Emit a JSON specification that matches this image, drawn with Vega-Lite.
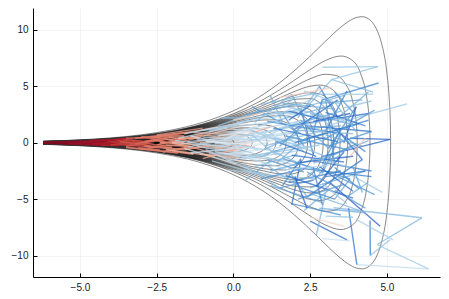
{
"$schema": "https://vega.github.io/schema/vega-lite/v6.json",
"width": 407, "height": 269,
"autosize": {"type": "none"},
"padding": {"left": 33, "top": 8, "right": 9, "bottom": 22},
"background": "white",
"config": {
  "view": {"stroke": null},
  "axis": {"title": null, "domainColor": "#000", "domainWidth": 1, "tickColor": "#000", "tickSize": -4, "labelPadding": 9, "gridColor": "#000", "gridOpacity": 0.08, "gridWidth": 0.6, "labelFont": "Liberation Sans", "labelFontSize": 10, "labelColor": "#222"}
},
"datasets": {
"band": [
{"x":-6.2,"a":0.132,"na":-0.132},{"x":-5,"a":0.245,"na":-0.245},{"x":-4,"a":0.403,"na":-0.403},{"x":-3,"a":0.656,"na":-0.656},{"x":-2,"a":1.054,"na":-1.054},{"x":-1.5,"a":1.328,"na":-1.328},{"x":-1,"a":1.665,"na":-1.665},{"x":-0.5,"a":2.078,"na":-2.078},{"x":0,"a":2.578,"na":-2.578},{"x":0.5,"a":3.177,"na":-3.177}
],
"contours": [
{"k":1,"x":-6.2,"u":0.142,"l":-0.142},{"k":1,"x":-5,"u":0.263,"l":-0.263},{"k":1,"x":-4,"u":0.433,"l":-0.433},{"k":1,"x":-3,"u":0.707,"l":-0.707},{"k":1,"x":-2,"u":1.139,"l":-1.139},{"k":1,"x":-1.5,"u":1.439,"l":-1.439},{"k":1,"x":-1,"u":1.812,"l":-1.812},{"k":1,"x":-0.5,"u":2.272,"l":-2.272},{"k":1,"x":0,"u":2.835,"l":-2.835},{"k":1,"x":0.5,"u":3.518,"l":-3.518},{"k":1,"x":1,"u":4.338,"l":-4.338},{"k":1,"x":1.5,"u":5.307,"l":-5.307},{"k":1,"x":2,"u":6.427,"l":-6.427},{"k":1,"x":2.5,"u":7.679,"l":-7.679},{"k":1,"x":3,"u":9.003,"l":-9.003},{"k":1,"x":3.5,"u":10.252,"l":-10.252},{"k":1,"x":3.75,"u":10.759,"l":-10.759},{"k":1,"x":4,"u":11.101,"l":-11.101},{"k":1,"x":4.2,"u":11.181,"l":-11.181},{"k":1,"x":4.5,"u":10.754,"l":-10.754},{"k":1,"x":4.7,"u":9.839,"l":-9.839},{"k":1,"x":4.821,"u":8.852,"l":-8.852},{"k":1,"x":5.001,"u":6.155,"l":-6.155},{"k":1,"x":5.071,"u":4.122,"l":-4.122},{"k":1,"x":5.106,"u":2.3,"l":-2.3},{"k":1,"x":5.117,"u":1.194,"l":-1.194},{"k":1,"x":5.121,"u":0,"l":0},
{"k":2,"x":-6.2,"u":0.132,"l":-0.132},{"k":2,"x":-5,"u":0.245,"l":-0.245},{"k":2,"x":-4,"u":0.403,"l":-0.403},{"k":2,"x":-3,"u":0.656,"l":-0.656},{"k":2,"x":-2,"u":1.054,"l":-1.054},{"k":2,"x":-1.5,"u":1.328,"l":-1.328},{"k":2,"x":-1,"u":1.665,"l":-1.665},{"k":2,"x":-0.5,"u":2.078,"l":-2.078},{"k":2,"x":0,"u":2.578,"l":-2.578},{"k":2,"x":0.5,"u":3.177,"l":-3.177},{"k":2,"x":1,"u":3.88,"l":-3.88},{"k":2,"x":1.5,"u":4.685,"l":-4.685},{"k":2,"x":2,"u":5.573,"l":-5.573},{"k":2,"x":2.5,"u":6.487,"l":-6.487},{"k":2,"x":3,"u":7.293,"l":-7.293},{"k":2,"x":3.5,"u":7.693,"l":-7.693},{"k":2,"x":3.849,"u":7.358,"l":-7.358},{"k":2,"x":4.149,"u":6.097,"l":-6.097},{"k":2,"x":4.329,"u":4.241,"l":-4.241},{"k":2,"x":4.399,"u":2.84,"l":-2.84},{"k":2,"x":4.434,"u":1.585,"l":-1.585},{"k":2,"x":4.445,"u":0.823,"l":-0.823},{"k":2,"x":4.449,"u":0,"l":0},
{"k":3,"x":-6.2,"u":0.126,"l":-0.126},{"k":3,"x":-5,"u":0.233,"l":-0.233},{"k":3,"x":-4,"u":0.384,"l":-0.384},{"k":3,"x":-3,"u":0.625,"l":-0.625},{"k":3,"x":-2,"u":1.0,"l":-1.0},{"k":3,"x":-1.5,"u":1.258,"l":-1.258},{"k":3,"x":-1,"u":1.573,"l":-1.573},{"k":3,"x":-0.5,"u":1.956,"l":-1.956},{"k":3,"x":0,"u":2.416,"l":-2.416},{"k":3,"x":0.5,"u":2.959,"l":-2.959},{"k":3,"x":1,"u":3.584,"l":-3.584},{"k":3,"x":1.5,"u":4.28,"l":-4.28},{"k":3,"x":2,"u":5.007,"l":-5.007},{"k":3,"x":2.5,"u":5.675,"l":-5.675},{"k":3,"x":3,"u":6.075,"l":-6.075},{"k":3,"x":3.332,"u":5.969,"l":-5.969},{"k":3,"x":3.632,"u":5.29,"l":-5.29},{"k":3,"x":3.882,"u":3.699,"l":-3.699},{"k":3,"x":3.982,"u":2.251,"l":-2.251},{"k":3,"x":4.017,"u":1.256,"l":-1.256},{"k":3,"x":4.028,"u":0.653,"l":-0.653},{"k":3,"x":4.032,"u":0,"l":0},
{"k":4,"x":-6.2,"u":0.121,"l":-0.121},{"k":4,"x":-5,"u":0.225,"l":-0.225},{"k":4,"x":-4,"u":0.37,"l":-0.37},{"k":4,"x":-3,"u":0.601,"l":-0.601},{"k":4,"x":-2,"u":0.961,"l":-0.961},{"k":4,"x":-1.5,"u":1.206,"l":-1.206},{"k":4,"x":-1,"u":1.504,"l":-1.504},{"k":4,"x":-0.5,"u":1.865,"l":-1.865},{"k":4,"x":0,"u":2.294,"l":-2.294},{"k":4,"x":0.5,"u":2.794,"l":-2.794},{"k":4,"x":1,"u":3.359,"l":-3.359},{"k":4,"x":1.5,"u":3.968,"l":-3.968},{"k":4,"x":2,"u":4.563,"l":-4.563},{"k":4,"x":2.5,"u":5.019,"l":-5.019},{"k":4,"x":2.823,"u":5.115,"l":-5.115},{"k":4,"x":3.223,"u":4.716,"l":-4.716},{"k":4,"x":3.523,"u":3.498,"l":-3.498},{"k":4,"x":3.653,"u":2.217,"l":-2.217},{"k":4,"x":3.703,"u":1.217,"l":-1.217},{"k":4,"x":3.718,"u":0.613,"l":-0.613},{"k":4,"x":3.723,"u":0,"l":0},
{"k":5,"x":-6.2,"u":0.117,"l":-0.117},{"k":5,"x":-5,"u":0.218,"l":-0.218},{"k":5,"x":-4,"u":0.359,"l":-0.359},{"k":5,"x":-3,"u":0.583,"l":-0.583},{"k":5,"x":-2,"u":0.929,"l":-0.929},{"k":5,"x":-1.5,"u":1.163,"l":-1.163},{"k":5,"x":-1,"u":1.449,"l":-1.449},{"k":5,"x":-0.5,"u":1.791,"l":-1.791},{"k":5,"x":0,"u":2.195,"l":-2.195},{"k":5,"x":0.5,"u":2.659,"l":-2.659},{"k":5,"x":1,"u":3.173,"l":-3.173},{"k":5,"x":1.5,"u":3.707,"l":-3.707},{"k":5,"x":2,"u":4.186,"l":-4.186},{"k":5,"x":2.5,"u":4.444,"l":-4.444},{"k":5,"x":2.875,"u":4.259,"l":-4.259},{"k":5,"x":3.175,"u":3.533,"l":-3.533},{"k":5,"x":3.355,"u":2.459,"l":-2.459},{"k":5,"x":3.435,"u":1.481,"l":-1.481},{"k":5,"x":3.465,"u":0.753,"l":-0.753},{"k":5,"x":3.475,"u":0,"l":0},
{"k":6,"x":-6.2,"u":0.114,"l":-0.114},{"k":6,"x":-5,"u":0.212,"l":-0.212},{"k":6,"x":-4,"u":0.35,"l":-0.35},{"k":6,"x":-3,"u":0.567,"l":-0.567},{"k":6,"x":-2,"u":0.902,"l":-0.902},{"k":6,"x":-1.5,"u":1.128,"l":-1.128},{"k":6,"x":-1,"u":1.402,"l":-1.402},{"k":6,"x":-0.5,"u":1.728,"l":-1.728},{"k":6,"x":0,"u":2.11,"l":-2.11},{"k":6,"x":0.5,"u":2.543,"l":-2.543},{"k":6,"x":1,"u":3.013,"l":-3.013},{"k":6,"x":1.5,"u":3.479,"l":-3.479},{"k":6,"x":2,"u":3.851,"l":-3.851},{"k":6,"x":2.5,"u":3.913,"l":-3.913},{"k":6,"x":2.766,"u":3.643,"l":-3.643},{"k":6,"x":3.016,"u":2.943,"l":-2.943},{"k":6,"x":3.166,"u":2.016,"l":-2.016},{"k":6,"x":3.236,"u":1.146,"l":-1.146},{"k":6,"x":3.258,"u":0.599,"l":-0.599},{"k":6,"x":3.266,"u":0,"l":0},
{"k":7,"x":-6.2,"u":0.111,"l":-0.111},{"k":7,"x":-5,"u":0.207,"l":-0.207},{"k":7,"x":-4,"u":0.341,"l":-0.341},{"k":7,"x":-3,"u":0.553,"l":-0.553},{"k":7,"x":-2,"u":0.878,"l":-0.878},{"k":7,"x":-1.5,"u":1.097,"l":-1.097},{"k":7,"x":-1,"u":1.361,"l":-1.361},{"k":7,"x":-0.5,"u":1.673,"l":-1.673},{"k":7,"x":0,"u":2.036,"l":-2.036},{"k":7,"x":0.5,"u":2.441,"l":-2.441},{"k":7,"x":1,"u":2.871,"l":-2.871},{"k":7,"x":1.5,"u":3.275,"l":-3.275},{"k":7,"x":2,"u":3.543,"l":-3.543},{"k":7,"x":2.486,"u":3.416,"l":-3.416},{"k":7,"x":2.786,"u":2.835,"l":-2.835},{"k":7,"x":2.966,"u":1.974,"l":-1.974},{"k":7,"x":3.046,"u":1.189,"l":-1.189},{"k":7,"x":3.076,"u":0.604,"l":-0.604},{"k":7,"x":3.086,"u":0,"l":0},
{"k":8,"x":-6.2,"u":0.109,"l":-0.109},{"k":8,"x":-5,"u":0.203,"l":-0.203},{"k":8,"x":-4,"u":0.334,"l":-0.334},{"k":8,"x":-3,"u":0.541,"l":-0.541},{"k":8,"x":-2,"u":0.857,"l":-0.857},{"k":8,"x":-1.5,"u":1.07,"l":-1.07},{"k":8,"x":-1,"u":1.324,"l":-1.324},{"k":8,"x":-0.5,"u":1.624,"l":-1.624},{"k":8,"x":0,"u":1.969,"l":-1.969},{"k":8,"x":0.5,"u":2.349,"l":-2.349},{"k":8,"x":1,"u":2.741,"l":-2.741},{"k":8,"x":1.5,"u":3.087,"l":-3.087},{"k":8,"x":2,"u":3.252,"l":-3.252},{"k":8,"x":2.325,"u":3.117,"l":-3.117},{"k":8,"x":2.625,"u":2.588,"l":-2.588},{"k":8,"x":2.805,"u":1.802,"l":-1.802},{"k":8,"x":2.885,"u":1.086,"l":-1.086},{"k":8,"x":2.915,"u":0.552,"l":-0.552},{"k":8,"x":2.925,"u":0,"l":0},
{"k":10,"x":-6.2,"u":0.104,"l":-0.104},{"k":10,"x":-5,"u":0.195,"l":-0.195},{"k":10,"x":-4,"u":0.322,"l":-0.322},{"k":10,"x":-3,"u":0.52,"l":-0.52},{"k":10,"x":-2,"u":0.821,"l":-0.821},{"k":10,"x":-1.5,"u":1.022,"l":-1.022},{"k":10,"x":-1,"u":1.26,"l":-1.26},{"k":10,"x":-0.5,"u":1.538,"l":-1.538},{"k":10,"x":0,"u":1.852,"l":-1.852},{"k":10,"x":0.5,"u":2.187,"l":-2.187},{"k":10,"x":1,"u":2.51,"l":-2.51},{"k":10,"x":1.5,"u":2.744,"l":-2.744},{"k":10,"x":1.85,"u":2.762,"l":-2.762},{"k":10,"x":2.15,"u":2.565,"l":-2.565},{"k":10,"x":2.4,"u":2.074,"l":-2.074},{"k":10,"x":2.55,"u":1.421,"l":-1.421},{"k":10,"x":2.62,"u":0.808,"l":-0.808},{"k":10,"x":2.642,"u":0.422,"l":-0.422},{"k":10,"x":2.65,"u":0,"l":0},
{"k":12,"x":-6.2,"u":0.101,"l":-0.101},{"k":12,"x":-5,"u":0.189,"l":-0.189},{"k":12,"x":-4,"u":0.311,"l":-0.311},{"k":12,"x":-3,"u":0.502,"l":-0.502},{"k":12,"x":-2,"u":0.791,"l":-0.791},{"k":12,"x":-1.5,"u":0.981,"l":-0.981},{"k":12,"x":-1,"u":1.206,"l":-1.206},{"k":12,"x":-0.5,"u":1.465,"l":-1.465},{"k":12,"x":0,"u":1.751,"l":-1.751},{"k":12,"x":0.5,"u":2.045,"l":-2.045},{"k":12,"x":1,"u":2.305,"l":-2.305},{"k":12,"x":1.616,"u":2.414,"l":-2.414},{"k":12,"x":1.916,"u":2.243,"l":-2.243},{"k":12,"x":2.166,"u":1.814,"l":-1.814},{"k":12,"x":2.316,"u":1.243,"l":-1.243},{"k":12,"x":2.386,"u":0.707,"l":-0.707},{"k":12,"x":2.408,"u":0.37,"l":-0.37},{"k":12,"x":2.416,"u":0,"l":0},
{"k":15,"x":-6.2,"u":0.096,"l":-0.096},{"k":15,"x":-5,"u":0.181,"l":-0.181},{"k":15,"x":-4,"u":0.298,"l":-0.298},{"k":15,"x":-3,"u":0.48,"l":-0.48},{"k":15,"x":-2,"u":0.752,"l":-0.752},{"k":15,"x":-1.5,"u":0.929,"l":-0.929},{"k":15,"x":-1,"u":1.136,"l":-1.136},{"k":15,"x":-0.5,"u":1.369,"l":-1.369},{"k":15,"x":0,"u":1.618,"l":-1.618},{"k":15,"x":0.5,"u":1.857,"l":-1.857},{"k":15,"x":1,"u":2.024,"l":-2.024},{"k":15,"x":1.32,"u":2.034,"l":-2.034},{"k":15,"x":1.62,"u":1.891,"l":-1.891},{"k":15,"x":1.87,"u":1.53,"l":-1.53},{"k":15,"x":2.02,"u":1.049,"l":-1.049},{"k":15,"x":2.09,"u":0.596,"l":-0.596},{"k":15,"x":2.112,"u":0.312,"l":-0.312},{"k":15,"x":2.12,"u":0,"l":0},
{"k":20,"x":-6.2,"u":0.09,"l":-0.09},{"k":20,"x":-5,"u":0.17,"l":-0.17},{"k":20,"x":-4,"u":0.28,"l":-0.28},{"k":20,"x":-3,"u":0.449,"l":-0.449},{"k":20,"x":-2,"u":0.698,"l":-0.698},{"k":20,"x":-1.5,"u":0.857,"l":-0.857},{"k":20,"x":-1,"u":1.039,"l":-1.039},{"k":20,"x":-0.5,"u":1.235,"l":-1.235},{"k":20,"x":0,"u":1.43,"l":-1.43},{"k":20,"x":0.5,"u":1.581,"l":-1.581},{"k":20,"x":0.816,"u":1.615,"l":-1.615},{"k":20,"x":1.216,"u":1.495,"l":-1.495},{"k":20,"x":1.466,"u":1.211,"l":-1.211},{"k":20,"x":1.616,"u":0.83,"l":-0.83},{"k":20,"x":1.686,"u":0.472,"l":-0.472},{"k":20,"x":1.708,"u":0.247,"l":-0.247},{"k":20,"x":1.716,"u":0,"l":0},
{"k":25,"x":-6.2,"u":0.085,"l":-0.085},{"k":25,"x":-5,"u":0.16,"l":-0.16},{"k":25,"x":-4,"u":0.265,"l":-0.265},{"k":25,"x":-3,"u":0.423,"l":-0.423},{"k":25,"x":-2,"u":0.653,"l":-0.653},{"k":25,"x":-1.5,"u":0.797,"l":-0.797},{"k":25,"x":-1,"u":0.956,"l":-0.956},{"k":25,"x":-0.5,"u":1.12,"l":-1.12},{"k":25,"x":0,"u":1.264,"l":-1.264},{"k":25,"x":0.484,"u":1.328,"l":-1.328},{"k":25,"x":0.884,"u":1.231,"l":-1.231},{"k":25,"x":1.134,"u":0.997,"l":-0.997},{"k":25,"x":1.284,"u":0.684,"l":-0.684},{"k":25,"x":1.354,"u":0.389,"l":-0.389},{"k":25,"x":1.376,"u":0.204,"l":-0.204},{"k":25,"x":1.384,"u":0,"l":0},
{"k":30,"x":-6.2,"u":0.08,"l":-0.08},{"k":30,"x":-5,"u":0.153,"l":-0.153},{"k":30,"x":-4,"u":0.252,"l":-0.252},{"k":30,"x":-3,"u":0.401,"l":-0.401},{"k":30,"x":-2,"u":0.614,"l":-0.614},{"k":30,"x":-1.5,"u":0.744,"l":-0.744},{"k":30,"x":-1,"u":0.883,"l":-0.883},{"k":30,"x":-0.5,"u":1.017,"l":-1.017},{"k":30,"x":0.098,"u":1.118,"l":-1.118},{"k":30,"x":0.498,"u":1.078,"l":-1.078},{"k":30,"x":0.798,"u":0.898,"l":-0.898},{"k":30,"x":0.978,"u":0.627,"l":-0.627},{"k":30,"x":1.058,"u":0.378,"l":-0.378},{"k":30,"x":1.088,"u":0.192,"l":-0.192},{"k":30,"x":1.098,"u":0,"l":0},
{"k":40,"x":-6.2,"u":0.072,"l":-0.072},{"k":40,"x":-5,"u":0.139,"l":-0.139},{"k":40,"x":-4,"u":0.23,"l":-0.23},{"k":40,"x":-3,"u":0.364,"l":-0.364},{"k":40,"x":-2,"u":0.547,"l":-0.547},{"k":40,"x":-1.5,"u":0.652,"l":-0.652},{"k":40,"x":-1,"u":0.754,"l":-0.754},{"k":40,"x":-0.485,"u":0.829,"l":-0.829},{"k":40,"x":-0.085,"u":0.825,"l":-0.825},{"k":40,"x":0.265,"u":0.708,"l":-0.708},{"k":40,"x":0.465,"u":0.517,"l":-0.517},{"k":40,"x":0.565,"u":0.315,"l":-0.315},{"k":40,"x":0.603,"u":0.158,"l":-0.158},{"k":40,"x":0.615,"u":0,"l":0},
{"k":55,"x":-6.2,"u":0.063,"l":-0.063},{"k":55,"x":-5,"u":0.123,"l":-0.123},{"k":55,"x":-4,"u":0.203,"l":-0.203},{"k":55,"x":-3,"u":0.317,"l":-0.317},{"k":55,"x":-2,"u":0.462,"l":-0.462},{"k":55,"x":-1.5,"u":0.532,"l":-0.532},{"k":55,"x":-1.28,"u":0.558,"l":-0.558},{"k":55,"x":-0.88,"u":0.581,"l":-0.581},{"k":55,"x":-0.48,"u":0.542,"l":-0.542},{"k":55,"x":-0.23,"u":0.44,"l":-0.44},{"k":55,"x":-0.08,"u":0.303,"l":-0.303},{"k":55,"x":-0.01,"u":0.172,"l":-0.172},{"k":55,"x":0.02,"u":0,"l":0},
{"k":75,"x":-6.2,"u":0.052,"l":-0.052},{"k":75,"x":-5,"u":0.105,"l":-0.105},{"k":75,"x":-4,"u":0.172,"l":-0.172},{"k":75,"x":-3,"u":0.264,"l":-0.264},{"k":75,"x":-2,"u":0.36,"l":-0.36},{"k":75,"x":-1.747,"u":0.375,"l":-0.375},{"k":75,"x":-1.347,"u":0.376,"l":-0.376},{"k":75,"x":-0.997,"u":0.325,"l":-0.325},{"k":75,"x":-0.797,"u":0.238,"l":-0.238},{"k":75,"x":-0.697,"u":0.146,"l":-0.146},{"k":75,"x":-0.647,"u":0,"l":0},
{"k":100,"x":-6.2,"u":0.039,"l":-0.039},{"k":100,"x":-5,"u":0.084,"l":-0.084},{"k":100,"x":-4,"u":0.139,"l":-0.139},{"k":100,"x":-3,"u":0.203,"l":-0.203},{"k":100,"x":-2.49,"u":0.228,"l":-0.228},{"k":100,"x":-1.99,"u":0.226,"l":-0.226},{"k":100,"x":-1.69,"u":0.191,"l":-0.191},{"k":100,"x":-1.49,"u":0.124,"l":-0.124},{"k":100,"x":-1.39,"u":0,"l":0},
{"k":140,"x":-6.2,"u":0.013,"l":-0.013},{"k":140,"x":-5,"u":0.05,"l":-0.05},{"k":140,"x":-4,"u":0.083,"l":-0.083},{"k":140,"x":-3,"u":0.087,"l":-0.087},{"k":140,"x":-2.9,"u":0.08,"l":-0.08},{"k":140,"x":-2.7,"u":0.053,"l":-0.053},{"k":140,"x":-2.6,"u":0,"l":0}
],
"neck": [
{"x":-6.2,"y":0,"x2":-5.6,"y2":0.05,"c":-0.95},{"x":-6.2,"y":0,"x2":-5.4,"y2":-0.06,"c":-0.95},{"x":-6.15,"y":0.02,"x2":-5.0,"y2":0.1,"c":-0.92},{"x":-6.2,"y":-0.03,"x2":-4.8,"y2":-0.12,"c":-0.9},{"x":-5.8,"y":0.05,"x2":-4.5,"y2":0.15,"c":-0.88},{"x":-5.5,"y":-0.05,"x2":-4.3,"y2":-0.2,"c":-0.85},{"x":-6.2,"y":0.01,"x2":-5.2,"y2":-0.02,"c":-0.97},{"x":-5.0,"y":0.1,"x2":-4.2,"y2":0.05,"c":-0.82},{"x":-4.8,"y":-0.12,"x2":-3.9,"y2":-0.1,"c":-0.8},{"x":-6.2,"y":0.03,"x2":-4.9,"y2":0.02,"c":-0.93},{"x":-5.6,"y":0.05,"x2":-4.6,"y2":-0.08,"c":-0.9},{"x":-5.4,"y":-0.06,"x2":-4.4,"y2":0.1,"c":-0.87},
{"x":-4.5,"y":0.15,"x2":-3.6,"y2":0.3,"c":-0.75},{"x":-4.3,"y":-0.2,"x2":-3.4,"y2":-0.15,"c":-0.72},{"x":-4.2,"y":0.05,"x2":-3.3,"y2":0.2,"c":-0.7},{"x":-3.9,"y":-0.1,"x2":-3.0,"y2":-0.3,"c":-0.68},{"x":-3.6,"y":0.3,"x2":-2.9,"y2":0.1,"c":-0.65},{"x":-3.4,"y":-0.15,"x2":-2.6,"y2":0.25,"c":-0.62},{"x":-3.3,"y":0.2,"x2":-2.5,"y2":-0.2,"c":-0.6},{"x":-3.0,"y":-0.3,"x2":-2.3,"y2":-0.45,"c":-0.6},{"x":-4.0,"y":0.0,"x2":-3.1,"y2":0.05,"c":-0.7},{"x":-3.8,"y":0.25,"x2":-3.2,"y2":-0.05,"c":-0.68},{"x":-4.6,"y":-0.08,"x2":-3.7,"y2":-0.25,"c":-0.78},{"x":-4.4,"y":0.1,"x2":-3.5,"y2":0.4,"c":-0.74},
{"x":-4.9,"y":0.05,"x2":-3.8,"y2":-0.1,"c":-0.78},{"x":-4.0,"y":-0.2,"x2":-3.0,"y2":0.15,"c":-0.68},{"x":-3.7,"y":0.1,"x2":-2.7,"y2":-0.25,"c":-0.62},{"x":-3.2,"y":-0.1,"x2":-2.2,"y2":0.3,"c":-0.55},{"x":-2.9,"y":-0.3,"x2":-2.0,"y2":-0.4,"c":-0.5},{"x":-2.6,"y":0.5,"x2":-1.8,"y2":0.2,"c":-0.45},{"x":-2.2,"y":-0.2,"x2":-1.4,"y2":-0.3,"c":-0.42},{"x":-1.9,"y":0.4,"x2":-1.1,"y2":0.4,"c":-0.38},{"x":-5.2,"y":-0.05,"x2":-4.1,"y2":0.12,"c":-0.85},{"x":-4.7,"y":0.2,"x2":-3.9,"y2":0.25,"c":-0.8},{"x":-3.5,"y":-0.3,"x2":-2.8,"y2":-0.05,"c":-0.6},{"x":-2.4,"y":0.6,"x2":-1.6,"y2":0.6,"c":-0.45},{"x":-2.3,"y":-0.8,"x2":-1.5,"y2":-0.4,"c":-0.43},{"x":-3.0,"y":0.55,"x2":-2.3,"y2":0.2,"c":-0.55},
{"x":-2.9,"y":0.1,"x2":-2.1,"y2":0.5,"c":-0.52},{"x":-2.6,"y":0.25,"x2":-1.9,"y2":-0.1,"c":-0.5},{"x":-2.5,"y":-0.2,"x2":-1.7,"y2":0.3,"c":-0.48},{"x":-2.3,"y":-0.45,"x2":-1.6,"y2":-0.6,"c":-0.46},{"x":-2.1,"y":0.5,"x2":-1.5,"y2":0.2,"c":-0.42},{"x":-1.9,"y":-0.1,"x2":-1.2,"y2":-0.5,"c":-0.4},{"x":-1.7,"y":0.3,"x2":-1.0,"y2":0.7,"c":-0.38},{"x":-1.6,"y":-0.6,"x2":-0.9,"y2":-0.3,"c":-0.38},{"x":-2.7,"y":0.45,"x2":-2.0,"y2":0.75,"c":-0.5},{"x":-2.8,"y":-0.5,"x2":-2.2,"y2":-0.2,"c":-0.52},{"x":-2.4,"y":0.0,"x2":-1.6,"y2":0.05,"c":-0.45},{"x":-2.0,"y":0.75,"x2":-1.3,"y2":1.0,"c":-0.4},{"x":-2.0,"y":-0.75,"x2":-1.3,"y2":-1.0,"c":-0.42},{"x":-3.5,"y":0.4,"x2":-2.7,"y2":0.45,"c":-0.58},{"x":-3.1,"y":-0.45,"x2":-2.4,"y2":-0.65,"c":-0.55},{"x":-3.5,"y":-0.4,"x2":-1.8,"y2":-0.9,"c":-0.5},{"x":-3.2,"y":0.4,"x2":-1.5,"y2":0.9,"c":-0.5}
],
"paths": [
{"x":-1.5,"y":0.2,"x2":-0.6,"y2":0.9,"c":-0.3},{"x":-1.2,"y":-0.5,"x2":-0.4,"y2":-1.2,"c":-0.28},{"x":-1.0,"y":0.7,"x2":-0.2,"y2":0.4,"c":-0.22},{"x":-0.9,"y":-0.3,"x2":0.2,"y2":-0.8,"c":-0.18},{"x":-1.3,"y":1.0,"x2":-0.5,"y2":1.4,"c":-0.2},{"x":-1.1,"y":0.0,"x2":0.0,"y2":0.3,"c":-0.15},{"x":-0.6,"y":0.9,"x2":0.3,"y2":1.5,"c":-0.12},{"x":-0.4,"y":-1.2,"x2":0.5,"y2":-1.8,"c":-0.1},
{"x":-1.8,"y":-0.2,"x2":-0.3,"y2":0.5,"c":-0.3},{"x":-2.2,"y":0.3,"x2":-0.8,"y2":-0.5,"c":-0.35},{"x":-0.6,"y":-0.5,"x2":0.8,"y2":0.2,"c":-0.25},{"x":0.5,"y":-1.0,"x2":1.6,"y2":-1.9,"c":-0.15},{"x":-1.1,"y":-1.0,"x2":0.2,"y2":-1.3,"c":-0.2},
{"x":-1.5,"y":0.1,"x2":0.5,"y2":0.6,"c":0.2},{"x":-1.2,"y":-0.3,"x2":0.8,"y2":-1.2,"c":0.3},{"x":-1.0,"y":0.5,"x2":1.2,"y2":0.2,"c":0.35},{"x":-0.8,"y":1.0,"x2":0.6,"y2":2.0,"c":0.4},{"x":-0.3,"y":-1.0,"x2":1.6,"y2":-0.4,"c":0.25},{"x":-1.8,"y":0.4,"x2":-0.2,"y2":1.3,"c":0.1},{"x":-1.6,"y":-0.5,"x2":0.1,"y2":-1.9,"c":0.05},{"x":-0.9,"y":-0.6,"x2":0.6,"y2":-2.5,"c":0.3},{"x":-2.0,"y":0.0,"x2":-0.5,"y2":-0.3,"c":-0.1},{"x":-0.5,"y":1.5,"x2":1.0,"y2":3.0,"c":0.45},{"x":-0.2,"y":-2.4,"x2":1.2,"y2":-2.8,"c":0.4},{"x":-1.3,"y":0.9,"x2":0.4,"y2":0.7,"c":-0.2},{"x":-2.2,"y":-0.6,"x2":-0.6,"y2":-1.2,"c":-0.25},{"x":-1.0,"y":-1.4,"x2":0.3,"y2":-0.4,"c":-0.3},{"x":-2.5,"y":0.7,"x2":-1.0,"y2":1.3,"c":-0.35},{"x":-0.7,"y":0.2,"x2":0.7,"y2":-0.4,"c":-0.4},{"x":0.2,"y":0.5,"x2":1.2,"y2":1.4,"c":-0.3},{"x":-1.6,"y":0.8,"x2":0.3,"y2":1.8,"c":0.2},{"x":-0.4,"y":2.2,"x2":0.9,"y2":2.2,"c":0.5},{"x":0.8,"y":-0.6,"x2":-0.8,"y2":0.3,"c":0.35},{"x":0.4,"y":-3.3,"x2":1.2,"y2":-1.6,"c":0.6},{"x":-0.6,"y":-0.1,"x2":0.9,"y2":0.9,"c":0.25},{"x":-1.4,"y":-0.9,"x2":0.0,"y2":-0.5,"c":0.2},
{"x":-1.5,"y":-0.4,"x2":1.0,"y2":1.0,"c":0.3},{"x":-1.2,"y":0.3,"x2":1.5,"y2":-0.8,"c":0.35},{"x":-0.8,"y":-0.9,"x2":1.8,"y2":-1.6,"c":0.4},{"x":-1.0,"y":1.1,"x2":1.4,"y2":1.9,"c":0.3},{"x":-0.5,"y":-0.3,"x2":2.0,"y2":0.9,"c":0.4},{"x":-1.9,"y":0.2,"x2":0.4,"y2":-0.6,"c":0.25},{"x":-0.2,"y":0.9,"x2":2.4,"y2":0.0,"c":0.45},{"x":-0.7,"y":-1.6,"x2":1.1,"y2":-3.0,"c":0.35},{"x":0.1,"y":1.8,"x2":1.9,"y2":2.5,"c":0.35},{"x":-1.4,"y":0.6,"x2":-0.1,"y2":-0.2,"c":0.15},{"x":0.0,"y":-0.8,"x2":1.4,"y2":0.3,"c":0.2},{"x":-0.9,"y":0.1,"x2":0.9,"y2":-0.2,"c":0.05},{"x":0.3,"y":-1.4,"x2":2.2,"y2":-0.7,"c":0.4},{"x":0.6,"y":1.1,"x2":2.7,"y2":2.2,"c":0.35},{"x":-0.3,"y":0.3,"x2":0.8,"y2":1.6,"c":0.1},
{"x":0.5,"y":0.4,"x2":2.5,"y2":1.2,"c":0.3},{"x":0.2,"y":-0.6,"x2":2.0,"y2":-2.0,"c":0.45},{"x":0.8,"y":1.5,"x2":3.2,"y2":3.3,"c":0.6},{"x":1.0,"y":-1.0,"x2":3.0,"y2":0.5,"c":0.7},{"x":1.5,"y":2.5,"x2":3.6,"y2":4.2,"c":0.55},{"x":1.2,"y":-2.5,"x2":3.3,"y2":-1.0,"c":0.65},{"x":2.0,"y":0.0,"x2":4.1,"y2":1.7,"c":0.85},{"x":1.8,"y":-3.5,"x2":3.5,"y2":-2.5,"c":0.8},{"x":0.6,"y":3.2,"x2":2.2,"y2":0.8,"c":0.75},{"x":2.2,"y":3.0,"x2":2.6,"y2":-1.0,"c":0.9},{"x":3.0,"y":4.0,"x2":3.3,"y2":-2.0,"c":0.7},{"x":2.5,"y":-4.0,"x2":4.3,"y2":-2.5,"c":0.6},{"x":1.9,"y":-5.5,"x2":2.2,"y2":-1.5,"c":0.9},{"x":0.9,"y":-2.8,"x2":2.7,"y2":-3.2,"c":0.5},{"x":3.2,"y":5.6,"x2":2.4,"y2":3.2,"c":0.55},{"x":2.9,"y":6.7,"x2":4.7,"y2":6.75,"c":0.45},{"x":4.7,"y":6.75,"x2":3.2,"y2":5.6,"c":0.5},{"x":3.2,"y":5.6,"x2":4.55,"y2":4.5,"c":0.5},{"x":4.73,"y":5.3,"x2":2.9,"y2":3.8,"c":0.8},{"x":5.65,"y":3.45,"x2":2.5,"y2":1.1,"c":0.45},{"x":5.1,"y":0.3,"x2":3.8,"y2":0.4,"c":0.95},{"x":5.1,"y":0.3,"x2":2.9,"y2":-1.2,"c":0.95},{"x":4.5,"y":-2.5,"x2":2.6,"y2":-1.6,"c":0.8},{"x":4.85,"y":-4.4,"x2":3.8,"y2":-2.8,"c":0.4},{"x":3.15,"y":-3.55,"x2":4.78,"y2":-7.4,"c":1.0},{"x":6.14,"y":-6.65,"x2":3.26,"y2":-5.76,"c":0.55},{"x":6.14,"y":-6.65,"x2":4.68,"y2":-9.02,"c":0.55},{"x":4.68,"y":-9.02,"x2":6.36,"y2":-11.18,"c":0.4},{"x":6.36,"y":-11.18,"x2":4.02,"y2":-10.8,"c":0.3},{"x":4.02,"y":-10.8,"x2":3.75,"y2":-5.8,"c":0.85},{"x":4.46,"y":-10.0,"x2":4.45,"y2":-6.9,"c":0.85},{"x":4.46,"y":-10.0,"x2":5.1,"y2":-8.6,"c":0.5},{"x":3.7,"y":-8.6,"x2":2.5,"y2":-6.95,"c":0.9},{"x":2.7,"y":-8.2,"x2":3.0,"y2":-4.5,"c":0.55},{"x":2.9,"y":-8.5,"x2":3.8,"y2":-8.7,"c":0.25},{"x":4.0,"y":-6.8,"x2":5.2,"y2":-8.6,"c":0.4},{"x":2.8,"y":-5.8,"x2":4.3,"y2":-6.2,"c":0.6},{"x":3.0,"y":-6.5,"x2":3.9,"y2":-6.6,"c":0.5},{"x":4.3,"y":-5.8,"x2":3.3,"y2":-4.2,"c":0.7},{"x":2.0,"y":-2.2,"x2":4.5,"y2":-3.0,"c":0.85},{"x":1.8,"y":1.5,"x2":4.4,"y2":2.6,"c":0.9},{"x":3.7,"y":4.6,"x2":3.0,"y2":1.0,"c":0.85},{"x":1.2,"y":4.2,"x2":1.6,"y2":1.8,"c":0.6},{"x":0.4,"y":2.5,"x2":2.0,"y2":3.4,"c":0.7},{"x":2.6,"y":4.3,"x2":4.55,"y2":4.3,"c":0.4},{"x":3.9,"y":-1.2,"x2":2.0,"y2":-1.8,"c":0.95},{"x":4.4,"y":2.0,"x2":2.3,"y2":0.3,"c":0.8},{"x":3.5,"y":2.8,"x2":1.2,"y2":1.0,"c":0.6},{"x":3.3,"y":-1.5,"x2":1.0,"y2":0.8,"c":0.5},{"x":0.3,"y":-1.9,"x2":1.5,"y2":-4.0,"c":0.5},{"x":1.5,"y":-4.0,"x2":2.6,"y2":-3.3,"c":0.7},{"x":2.1,"y":2.2,"x2":2.8,"y2":5.0,"c":0.6},{"x":2.8,"y":5.0,"x2":3.4,"y2":2.2,"c":0.8},{"x":3.4,"y":2.2,"x2":4.4,"y2":4.5,"c":0.6},{"x":1.0,"y":0.5,"x2":2.6,"y2":-0.5,"c":0.35},{"x":0.0,"y":1.2,"x2":1.8,"y2":0.3,"c":0.25},{"x":-0.2,"y":-1.6,"x2":1.3,"y2":-0.8,"c":0.3},{"x":1.3,"y":-0.8,"x2":2.9,"y2":-2.7,"c":0.55},{"x":2.9,"y":-2.7,"x2":3.5,"y2":0.8,"c":0.75},{"x":3.5,"y":0.8,"x2":4.2,"y2":-1.5,"c":0.9},{"x":4.2,"y":-1.5,"x2":2.4,"y2":-4.8,"c":0.85},{"x":2.4,"y":-4.8,"x2":1.8,"y2":-2.5,"c":0.6},{"x":2.0,"y":4.0,"x2":1.5,"y2":3.0,"c":0.5},{"x":0.6,"y":0.0,"x2":2.2,"y2":2.0,"c":0.4},{"x":2.2,"y":2.0,"x2":3.1,"y2":-0.5,"c":0.65},{"x":3.1,"y":-0.5,"x2":4.0,"y2":3.2,"c":0.75},{"x":4.0,"y":3.2,"x2":3.6,"y2":0.0,"c":0.95},{"x":3.6,"y":0.0,"x2":2.7,"y2":2.8,"c":0.5},{"x":1.6,"y":-1.4,"x2":3.8,"y2":-3.2,"c":0.75},{"x":3.8,"y":-3.2,"x2":3.3,"y2":-5.0,"c":0.65},{"x":3.3,"y":-5.0,"x2":2.2,"y2":-4.0,"c":0.8},{"x":2.2,"y":-4.0,"x2":1.1,"y2":-2.0,"c":0.55},{"x":0.7,"y":1.8,"x2":1.9,"y2":4.3,"c":0.55},{"x":1.9,"y":4.3,"x2":2.4,"y2":1.5,"c":0.65},{"x":2.4,"y":1.5,"x2":4.5,"y2":1.0,"c":0.9},{"x":4.5,"y":1.0,"x2":3.2,"y2":-0.2,"c":0.7},{"x":4.3,"y":-2.5,"x2":3.0,"y2":-3.0,"c":0.85},{"x":1.5,"y":1.2,"x2":2.3,"y2":-0.8,"c":0.45},{"x":0.3,"y":0.9,"x2":1.6,"y2":2.2,"c":0.3},{"x":1.4,"y":3.4,"x2":3.6,"y2":2.0,"c":0.5},{"x":2.6,"y":-1.8,"x2":4.4,"y2":0.2,"c":0.6},{"x":0.9,"y":-3.2,"x2":2.4,"y2":-2.2,"c":0.75},{"x":2.8,"y":3.5,"x2":4.2,"y2":3.8,"c":0.65},{"x":3.9,"y":0.8,"x2":2.1,"y2":1.1,"c":0.55},{"x":1.1,"y":2.8,"x2":2.9,"y2":2.3,"c":0.4},{"x":0.2,"y":-0.2,"x2":1.4,"y2":0.6,"c":0.15},{"x":-0.5,"y":0.6,"x2":1.0,"y2":1.3,"c":0.1},{"x":-0.6,"y":-0.8,"x2":0.9,"y2":-1.5,"c":0.15},{"x":1.7,"y":-2.9,"x2":3.9,"y2":-4.9,"c":0.9},{"x":2.3,"y":-6.0,"x2":3.1,"y2":-4.2,"c":0.6},{"x":1.9,"y":-5.4,"x2":3.5,"y2":-6.4,"c":0.75},
{"x":0.5,"y":-1.2,"x2":2.8,"y2":-0.2,"c":0.5},{"x":1.1,"y":1.9,"x2":3.3,"y2":0.9,"c":0.8},{"x":2.3,"y":-0.3,"x2":1.6,"y2":2.6,"c":0.7},{"x":3.4,"y":3.8,"x2":2.0,"y2":1.2,"c":0.9},{"x":2.7,"y":-3.9,"x2":3.6,"y2":-0.8,"c":0.95},{"x":1.4,"y":-1.8,"x2":2.5,"y2":0.7,"c":0.6},{"x":3.1,"y":1.6,"x2":4.3,"y2":-0.8,"c":0.85},{"x":0.9,"y":0.9,"x2":2.9,"y2":1.9,"c":0.45},{"x":1.7,"y":0.6,"x2":3.7,"y2":-0.6,"c":0.75},{"x":2.5,"y":2.6,"x2":3.9,"y2":1.6,"c":0.6},{"x":0.7,"y":-2.1,"x2":2.1,"y2":-1.0,"c":0.55},{"x":2.4,"y":-2.6,"x2":3.4,"y2":-4.0,"c":0.7},{"x":3.3,"y":-2.2,"x2":4.1,"y2":-4.1,"c":0.8},{"x":1.3,"y":2.3,"x2":2.5,"y2":3.8,"c":0.35},{"x":2.9,"y":0.2,"x2":4.6,"y2":2.9,"c":0.7},{"x":0.4,"y":1.3,"x2":2.0,"y2":-0.4,"c":0.4},{"x":1.9,"y":-1.1,"x2":3.6,"y2":-1.7,"c":0.85},{"x":2.6,"y":0.9,"x2":2.9,"y2":3.9,"c":0.75},{"x":3.6,"y":-0.9,"x2":2.4,"y2":-2.9,"c":0.6},{"x":1.0,"y":-0.3,"x2":3.2,"y2":1.3,"c":0.55},{"x":2.2,"y":-1.4,"x2":1.6,"y2":-3.8,"c":0.8},{"x":3.0,"y":2.7,"x2":4.3,"y2":1.5,"c":0.85},{"x":1.2,"y":-3.8,"x2":2.9,"y2":-5.3,"c":0.65},{"x":2.1,"y":-5.0,"x2":3.6,"y2":-3.7,"c":0.7},{"x":2.6,"y":-4.6,"x2":4.1,"y2":-6.0,"c":0.55},{"x":3.9,"y":-4.3,"x2":2.8,"y2":-2.1,"c":0.9},{"x":1.6,"y":3.5,"x2":3.3,"y2":3.0,"c":0.6},{"x":2.3,"y":4.6,"x2":3.5,"y2":3.4,"c":0.45},{"x":3.3,"y":4.5,"x2":4.0,"y2":2.4,"c":0.7},{"x":3.8,"y":2.6,"x2":2.6,"y2":1.9,"c":0.95},{"x":0.8,"y":2.4,"x2":2.3,"y2":2.9,"c":0.5},{"x":1.4,"y":0.1,"x2":2.7,"y2":-1.2,"c":0.9},{"x":0.1,"y":-1.1,"x2":1.7,"y2":-2.3,"c":0.35},{"x":0.3,"y":0.2,"x2":1.9,"y2":1.7,"c":0.3},{"x":1.8,"y":2.8,"x2":3.0,"y2":2.0,"c":0.85},{"x":2.0,"y":1.3,"x2":3.5,"y2":1.5,"c":0.65},{"x":3.2,"y":-1.1,"x2":4.0,"y2":-0.1,"c":0.75},{"x":2.8,"y":-1.4,"x2":3.8,"y2":-2.2,"c":0.5},{"x":1.1,"y":-1.5,"x2":2.3,"y2":-2.6,"c":0.7},{"x":3.5,"y":1.2,"x2":2.9,"y2":-1.9,"c":0.8},{"x":3.7,"y":-4.8,"x2":4.4,"y2":-3.5,"c":0.6},{"x":2.0,"y":-3.0,"x2":2.4,"y2":-5.8,"c":0.95},{"x":2.9,"y":-3.6,"x2":3.7,"y2":-5.4,"c":0.45},{"x":1.6,"y":-2.4,"x2":3.1,"y2":-2.0,"c":0.3},{"x":0.6,"y":0.7,"x2":1.4,"y2":-1.1,"c":0.45},{"x":2.5,"y":3.3,"x2":1.8,"y2":2.0,"c":0.9},{"x":4.0,"y":1.0,"x2":3.3,"y2":3.6,"c":0.55},{"x":4.2,"y":-0.3,"x2":3.0,"y2":0.7,"c":0.6},{"x":3.4,"y":-3.0,"x2":4.6,"y2":-4.6,"c":0.7},{"x":1.3,"y":1.3,"x2":3.4,"y2":0.1,"c":0.9},{"x":0.9,"y":3.4,"x2":2.7,"y2":4.4,"c":0.55},{"x":2.1,"y":0.8,"x2":1.0,"y2":-0.6,"c":0.6},{"x":3.6,"y":3.1,"x2":4.5,"y2":3.7,"c":0.5},{"x":3.9,"y":-2.2,"x2":4.2,"y2":-4.4,"c":0.65},{"x":2.6,"y":-2.2,"x2":2.9,"y2":-5.5,"c":0.8},{"x":1.5,"y":-0.3,"x2":2.6,"y2":2.4,"c":0.7},
{"x":1.5,"y":4.0,"x2":3.2,"y2":4.9,"c":-0.15},{"x":3.8,"y":-1.2,"x2":4.3,"y2":0.4,"c":-0.2},{"x":2.5,"y":-6.6,"x2":3.6,"y2":-7.4,"c":-0.1},{"x":0.0,"y":2.0,"x2":1.0,"y2":2.7,"c":-0.1}
]
},
"layer": [
{"data": {"name": "band"},
 "mark": {"type": "area", "interpolate": "monotone", "clip": true,
  "color": {"gradient": "linear", "x1": 0, "y1": 0, "x2": 1, "y2": 0, "stops": [{"offset": 0, "color": "rgba(10,10,10,1)"}, {"offset": 0.72, "color": "rgba(10,10,10,1)"}, {"offset": 0.86, "color": "rgba(10,10,10,0.4)"}, {"offset": 1, "color": "rgba(10,10,10,0)"}]}},
 "encoding": {
  "x": {"field": "x", "type": "quantitative", "scale": {"domain": [-6.53, 6.73], "nice": false, "zero": false}, "axis": {"values": [-5, -2.5, 0, 2.5, 5], "format": ".1f"}},
  "y": {"field": "a", "type": "quantitative", "scale": {"domain": [-11.9, 11.95], "nice": false, "zero": false}, "axis": {"values": [-10, -5, 0, 5, 10], "format": "d"}},
  "y2": {"field": "na"}}},
{"data": {"name": "contours"},
 "mark": {"type": "line", "stroke": "#333333", "strokeWidth": 0.9, "opacity": 0.65, "interpolate": "monotone", "clip": true},
 "encoding": {
  "x": {"field": "x", "type": "quantitative"},
  "y": {"field": "u", "type": "quantitative"},
  "detail": {"field": "k", "type": "nominal"}}},
{"data": {"name": "contours"},
 "mark": {"type": "line", "stroke": "#333333", "strokeWidth": 0.9, "opacity": 0.65, "interpolate": "monotone", "clip": true},
 "encoding": {
  "x": {"field": "x", "type": "quantitative"},
  "y": {"field": "l", "type": "quantitative"},
  "detail": {"field": "k", "type": "nominal"}}},
{"data": {"name": "neck"},
 "mark": {"type": "rule", "strokeWidth": 1.7, "opacity": 0.95, "clip": true},
 "encoding": {
  "x": {"field": "x", "type": "quantitative"},
  "y": {"field": "y", "type": "quantitative"},
  "x2": {"field": "x2"},
  "y2": {"field": "y2"},
  "color": {"field": "c", "type": "quantitative", "legend": null,
   "scale": {"domain": [-1, -0.75, -0.5, -0.25, 0, 0.25, 0.5, 0.75, 1], "range": ["#6b0a1e", "#b2182b", "#e07b6a", "#f4b7a0", "#eeeeee", "#c6dff0", "#8fc0e0", "#4a90d0", "#2b55c0"]}}}},
{"data": {"name": "paths"},
 "mark": {"type": "rule", "strokeWidth": 1.4, "opacity": 0.75, "clip": true},
 "encoding": {
  "x": {"field": "x", "type": "quantitative"},
  "y": {"field": "y", "type": "quantitative"},
  "x2": {"field": "x2"},
  "y2": {"field": "y2"},
  "color": {"field": "c", "type": "quantitative", "legend": null,
   "scale": {"domain": [-1, -0.75, -0.5, -0.25, 0, 0.25, 0.5, 0.75, 1], "range": ["#6b0a1e", "#b2182b", "#e07b6a", "#f4b7a0", "#eeeeee", "#c6dff0", "#8fc0e0", "#4a90d0", "#2b55c0"]}}}}
]
}
